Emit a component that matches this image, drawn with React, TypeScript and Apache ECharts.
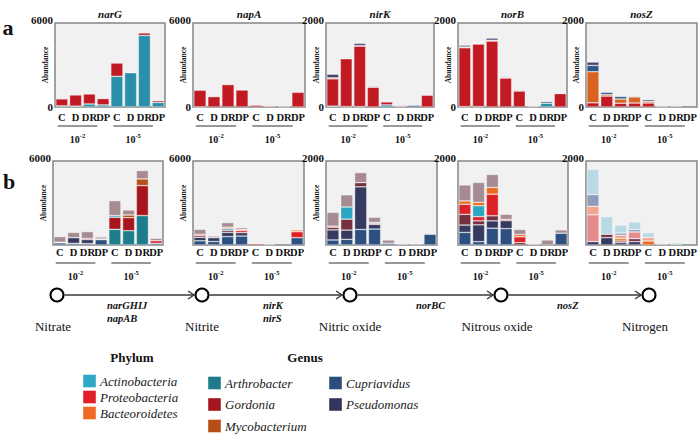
import React, { useEffect, useRef } from "react";
import * as echarts from "echarts";

const FONT = "Liberation Serif";

// ---------- data ----------
const CATEGORIES = ["C", "D", "DR", "DP", "C", "D", "DR", "DP"];
const DILUTIONS = ["-2", "-5"];
const GENES_A = ["narG", "napA", "nirK", "norB", "nosZ"];
const Y_MAX = [6000, 6000, 2000, 2000, 2000];

// Row a (phylum level)
const a_narG_actino = [80, 60, 215, 150, 2190, 2450, 5110, 330];
const a_narG_proteo = [500, 800, 715, 450, 950, 20, 180, 120];

const a_napA_actino = [10, 0, 0, 0, 0, 0, 0, 0];
const a_napA_proteo = [1190, 740, 1600, 1220, 120, 60, 20, 1050];
const a_napA_bacter = [0, 0, 0, 25, 0, 0, 0, 0];

const a_nirK_actino = [20, 10, 10, 0, 50, 20, 0, 0];
const a_nirK_proteo = [650, 1140, 1440, 470, 70, 20, 0, 280];
const a_nirK_bacter = [25, 0, 10, 0, 0, 0, 0, 0];
const a_nirK_blue = [0, 0, 0, 0, 0, 0, 40, 0];
const a_nirK_dark = [85, 15, 55, 20, 0, 0, 0, 0];
const a_nirK_light = [0, 25, 0, 0, 0, 0, 0, 0];

const a_norB_actino = [10, 10, 0, 0, 0, 0, 90, 0];
const a_norB_proteo = [1400, 1490, 1570, 690, 380, 15, 0, 320];
const a_norB_bacter = [20, 0, 20, 15, 0, 0, 0, 0];
const a_norB_blue = [0, 0, 0, 0, 0, 0, 40, 0];
const a_norB_dark = [40, 10, 50, 20, 20, 0, 0, 0];
const a_norB_light = [0, 20, 0, 0, 0, 0, 0, 10];

const a_nosZ_proteo = [100, 260, 90, 95, 95, 0, 0, 0];
const a_nosZ_bacter = [740, 35, 100, 145, 40, 0, 0, 0];
const a_nosZ_blue = [150, 55, 60, 0, 40, 10, 20, 0];
const a_nosZ_dark = [80, 0, 0, 0, 0, 0, 0, 0];
const a_nosZ_light = [0, 0, 0, 30, 0, 0, 0, 0];

// Row b (genus level)
const b_narG_arthro = [0, 0, 0, 0, 1120, 1020, 2100, 0];
const b_narG_cupri = [150, 120, 100, 380, 0, 0, 0, 120];
const b_narG_pseudo = [50, 400, 290, 50, 0, 0, 0, 0];
const b_narG_gordonia = [0, 0, 70, 0, 860, 930, 2140, 0];
const b_narG_red = [0, 0, 0, 0, 0, 0, 0, 190];
const b_narG_cyan = [0, 0, 0, 0, 120, 0, 0, 0];
const b_narG_myco = [0, 0, 0, 0, 0, 190, 480, 0];
const b_narG_mauve = [400, 380, 500, 140, 1070, 360, 600, 170];

const b_napA_cupri = [300, 250, 600, 640, 0, 0, 0, 520];
const b_napA_pseudo = [250, 270, 300, 240, 0, 0, 0, 0];
const b_napA_maroon = [120, 0, 150, 0, 0, 0, 0, 0];
const b_napA_red = [90, 0, 0, 150, 100, 0, 0, 430];
const b_napA_cyan = [0, 0, 120, 0, 0, 40, 0, 0];
const b_napA_orange = [0, 0, 100, 90, 0, 0, 0, 120];
const b_napA_mauve = [360, 120, 330, 120, 0, 0, 0, 0];

const b_nirK_cupri = [120, 135, 370, 380, 40, 0, 0, 255];
const b_nirK_pseudo = [240, 220, 1015, 110, 0, 0, 0, 0];
const b_nirK_maroon = [63, 260, 100, 0, 0, 0, 0, 0];
const b_nirK_red = [25, 0, 0, 25, 0, 0, 0, 0];
const b_nirK_cyan = [0, 290, 0, 25, 0, 0, 0, 0];
const b_nirK_mauve = [330, 290, 240, 120, 80, 25, 25, 0];

const b_norB_cupri = [300, 80, 400, 390, 0, 0, 0, 280];
const b_norB_pseudo = [175, 400, 175, 190, 0, 0, 0, 0];
const b_norB_maroon = [255, 95, 120, 0, 55, 0, 0, 0];
const b_norB_red = [240, 100, 515, 30, 140, 0, 0, 0];
const b_norB_cyan = [0, 260, 0, 0, 0, 0, 0, 0];
const b_norB_orange = [80, 80, 160, 0, 55, 20, 0, 0];
const b_norB_mauve = [380, 475, 310, 120, 120, 0, 120, 80];

const b_nosZ_pseudo = [80, 175, 55, 80, 0, 0, 0, 0];
const b_nosZ_maroon = [0, 80, 40, 70, 0, 0, 0, 0];
const b_nosZ_orange = [0, 0, 55, 0, 95, 0, 0, 0];
const b_nosZ_pink = [640, 0, 0, 160, 0, 0, 0, 0];
const b_nosZ_salmon = [200, 0, 80, 0, 80, 0, 0, 0];
const b_nosZ_slate = [280, 0, 55, 60, 0, 25, 0, 0];
const b_nosZ_lightblue = [600, 420, 190, 180, 120, 0, 50, 0];

// Pathway and legend texts
const COMPOUNDS = ["Nitrate", "Nitrite", "Nitric oxide", "Nitrous oxide", "Nitrogen"];
const PATH_GENES = [["narGHIJ", "napAB"], ["nirK", "nirS"], ["norBC"], ["nosZ"]];
const PHYLA = ["Actinobacteria", "Proteobacteria", "Bacteoroidetes"];
const GENERA_COL1 = ["Arthrobacter", "Gordonia", "Mycobacterium"];
const GENERA_COL2 = ["Cupriavidus", "Pseudomonas"];

// ---------- styles ----------
const ORDER_A = ["actino", "proteo", "bacter", "blue", "dark", "light"];
const COLORS_A: Record<string, string> = {
  actino: "#2990a9",
  proteo: "#c21a22",
  bacter: "#d9621e",
  blue: "#2f5588",
  dark: "#4a4268",
  light: "#a9cfdc",
};
const ORDER_B = ["arthro", "cupri", "pseudo", "gordonia", "maroon", "red", "cyan", "orange", "myco", "pink", "salmon", "slate", "lightblue", "mauve"];
const COLORS_B: Record<string, string> = {
  arthro: "#1f7c8c",
  cupri: "#2c5080",
  pseudo: "#363a60",
  gordonia: "#a8151d",
  maroon: "#74303e",
  red: "#dc2129",
  cyan: "#2ba6c2",
  orange: "#ea6b1f",
  myco: "#b65118",
  pink: "#e68a8c",
  salmon: "#f2a48e",
  slate: "#8f9dbb",
  lightblue: "#b9d9e4",
  mauve: "#a68c92",
};
const PHYLA_COLORS = ["#2ea8c6", "#e01f2b", "#ef6a23"];
const GENERA_COL1_COLORS = ["#1f7b8a", "#a3161e", "#b84d16"];
const GENERA_COL2_COLORS = ["#2b4d7c", "#33355a"];

const A_LEFT = [55, 193, 326, 458, 586];
const A_WIDTH = [110, 112, 108, 109, 111];
const B_LEFT = [53, 193, 326, 458, 586];
const B_WIDTH = [110, 111, 111, 110, 111];
const A_TOP = 23;
const B_TOP = 161;
const PANEL_H = 84;

function txt(x: number, y: number, text: string, size: number, opts: any = {}) {
  return {
    type: "text", silent: true, x, y, rotation: opts.rotation || 0,
    style: {
      text, x: 0, y: 0,
      align: opts.align || "center", verticalAlign: "middle",
      fill: opts.fill || "#111",
      fontFamily: FONT, fontSize: size,
      fontWeight: opts.bold ? "bold" : "normal",
      fontStyle: opts.italic ? "italic" : "normal",
    },
  };
}

function buildOption() {
  const rowA: Record<string, number[]>[] = [
    { actino: a_narG_actino, proteo: a_narG_proteo },
    { actino: a_napA_actino, proteo: a_napA_proteo, bacter: a_napA_bacter },
    { actino: a_nirK_actino, proteo: a_nirK_proteo, bacter: a_nirK_bacter, blue: a_nirK_blue, dark: a_nirK_dark, light: a_nirK_light },
    { actino: a_norB_actino, proteo: a_norB_proteo, bacter: a_norB_bacter, blue: a_norB_blue, dark: a_norB_dark, light: a_norB_light },
    { proteo: a_nosZ_proteo, bacter: a_nosZ_bacter, blue: a_nosZ_blue, dark: a_nosZ_dark, light: a_nosZ_light },
  ];
  const rowB: Record<string, number[]>[] = [
    { arthro: b_narG_arthro, cupri: b_narG_cupri, pseudo: b_narG_pseudo, gordonia: b_narG_gordonia, red: b_narG_red, cyan: b_narG_cyan, myco: b_narG_myco, mauve: b_narG_mauve },
    { cupri: b_napA_cupri, pseudo: b_napA_pseudo, maroon: b_napA_maroon, red: b_napA_red, cyan: b_napA_cyan, orange: b_napA_orange, mauve: b_napA_mauve },
    { cupri: b_nirK_cupri, pseudo: b_nirK_pseudo, maroon: b_nirK_maroon, red: b_nirK_red, cyan: b_nirK_cyan, mauve: b_nirK_mauve },
    { cupri: b_norB_cupri, pseudo: b_norB_pseudo, maroon: b_norB_maroon, red: b_norB_red, cyan: b_norB_cyan, orange: b_norB_orange, mauve: b_norB_mauve },
    { pseudo: b_nosZ_pseudo, maroon: b_nosZ_maroon, orange: b_nosZ_orange, pink: b_nosZ_pink, salmon: b_nosZ_salmon, slate: b_nosZ_slate, lightblue: b_nosZ_lightblue },
  ];

  const grid: any[] = [];
  const xAxis: any[] = [];
  const yAxis: any[] = [];
  const series: any[] = [];
  const graphic: any[] = [];
  const catKeys = CATEGORIES.map((c, i) => c + "|" + i);

  const addPanel = (
    idx: number, left: number, width: number, top: number, ymax: number,
    row: "a" | "b", showName: boolean,
    data: Record<string, number[]>, order: string[], colors: Record<string, string>
  ) => {
    grid.push({
      left, top, width, height: PANEL_H, show: true,
      backgroundColor: "#f1f1f1", borderColor: "#858585", borderWidth: 1.5,
    });
    xAxis.push({
      type: "category", gridIndex: idx, data: catKeys,
      axisLine: { show: false }, axisTick: { show: false }, splitLine: { show: false },
      axisLabel: {
        interval: 0, margin: row === "a" ? 5 : 2, hideOverlap: false,
        formatter: (v: string) => v.split("|")[0],
        fontFamily: FONT, fontWeight: "bold", fontSize: 10.5, color: "#111",
      },
    });
    yAxis.push({
      type: "value", gridIndex: idx, min: 0, max: ymax, interval: ymax,
      axisLine: { show: false }, axisTick: { show: false }, splitLine: { show: false },
      axisLabel: {
        margin: 2,
        fontFamily: FONT, fontWeight: "bold", fontSize: 11, color: "#111",
        formatter: (v: number) => (v === 0 ? (row === "a" ? "{z|0}" : "") : "{t|" + v + "}"),
        rich: {
          t: { fontFamily: FONT, fontWeight: "bold", fontSize: 11, color: "#111", padding: [0, 0, 6, 0] },
          z: { fontFamily: FONT, fontWeight: "bold", fontSize: 11, color: "#111" },
        },
      },
    });
    if (showName) {
      graphic.push(txt(left - 9.5, top + PANEL_H / 2, "Abundance", 7.5, { bold: true, rotation: Math.PI / 2 }));
    }
    order.forEach((key) => {
      const arr = data[key];
      if (!arr) return;
      series.push({
        type: "bar", name: key, stack: "s" + idx,
        xAxisIndex: idx, yAxisIndex: idx,
        data: arr.map((v) => (v > 0 ? v : null)),
        barCategoryGap: "12%", silent: true,
        itemStyle: { color: colors[key], borderColor: "rgba(255,255,255,0.6)", borderWidth: 0.6 },
      });
    });
    // dilution group underlines + labels
    const yLine = row === "a" ? top + PANEL_H + 19 : top + PANEL_H + 18;
    const starts = [left + width * 0.025, left + width * 0.53];
    starts.forEach((sx, gi) => {
      const len = width * 0.36;
      graphic.push({
        type: "line", silent: true,
        shape: { x1: sx, y1: yLine, x2: sx + len, y2: yLine },
        style: { stroke: "#333", lineWidth: 1 },
      });
      graphic.push({
        type: "text", silent: true, x: sx + len / 2, y: yLine + 12,
        style: {
          text: "{b|10}{s|" + DILUTIONS[gi] + "}",
          align: "center", verticalAlign: "middle", fill: "#111",
          fontFamily: FONT,
          rich: {
            b: { fontFamily: FONT, fontWeight: "bold", fontSize: 10, lineHeight: 13, verticalAlign: "bottom", fill: "#111" },
            s: { fontFamily: FONT, fontWeight: "bold", fontSize: 6.5, lineHeight: 7, verticalAlign: "top", fill: "#111" },
          },
        },
      });
    });
  };

  for (let i = 0; i < 5; i++) {
    addPanel(i, A_LEFT[i], A_WIDTH[i], A_TOP, Y_MAX[i], "a", true, rowA[i], ORDER_A, COLORS_A);
    graphic.push(txt(A_LEFT[i] + A_WIDTH[i] / 2, 14, GENES_A[i], 11, { bold: true, italic: true }));
  }
  for (let i = 0; i < 5; i++) {
    addPanel(5 + i, B_LEFT[i], B_WIDTH[i], B_TOP, Y_MAX[i], "b", i < 3, rowB[i], ORDER_B, COLORS_B);
  }

  // panel letters
  graphic.push(txt(8, 27, "a", 22, { bold: true }));
  graphic.push(txt(9, 181, "b", 22, { bold: true }));

  // pathway
  const cx = [57, 202, 350, 501, 649];
  const cy = 295;
  const r = 6.5;
  for (let i = 0; i < cx.length - 1; i++) {
    const x1 = cx[i] + r + 1;
    const x2 = cx[i + 1] - r - 1.5;
    graphic.push({ type: "line", silent: true, shape: { x1, y1: cy, x2, y2: cy }, style: { stroke: "#3a3a3a", lineWidth: 1.4 } });
    graphic.push({ type: "polyline", silent: true, shape: { points: [[x2 - 6, cy - 4], [x2, cy], [x2 - 6, cy + 4]] }, style: { stroke: "#3a3a3a", lineWidth: 1.4, fill: "none" } });
  }
  cx.forEach((x) => {
    graphic.push({ type: "circle", silent: true, shape: { cx: x, cy, r }, style: { fill: "#fff", stroke: "#000", lineWidth: 2 } });
  });
  const compoundX = [53, 202, 350, 497, 645];
  COMPOUNDS.forEach((name, i) => graphic.push(txt(compoundX[i], 326, name, 13)));
  const geneX = [107, 263, 416, 557];
  PATH_GENES.forEach((genes, i) => {
    genes.forEach((g, j) => graphic.push(txt(geneX[i], 305 + j * 13, g, 10.5, { bold: true, italic: true, align: "left" })));
  });

  // legend
  graphic.push(txt(132, 357, "Phylum", 13, { bold: true }));
  graphic.push(txt(305, 357, "Genus", 13, { bold: true }));
  const addLegendItem = (sx: number, yc: number, color: string, label: string) => {
    graphic.push({ type: "rect", silent: true, shape: { x: sx, y: yc - 6.5, width: 13, height: 13 }, style: { fill: color, stroke: "rgba(255,255,255,0.7)", lineWidth: 0.6 } });
    graphic.push(txt(sx + 17, yc, label, 13, { italic: true, align: "left", fill: "#222" }));
  };
  PHYLA.forEach((p, i) => addLegendItem(83, 381 + i * 16, PHYLA_COLORS[i], p));
  GENERA_COL1.forEach((g, i) => addLegendItem(208, 383 + i * 21.5, GENERA_COL1_COLORS[i], g));
  GENERA_COL2.forEach((g, i) => addLegendItem(329, 383 + i * 21.5, GENERA_COL2_COLORS[i], g));

  return {
    animation: false,
    backgroundColor: "#ffffff",
    textStyle: { fontFamily: FONT },
    grid, xAxis, yAxis, series, graphic,
  };
}

export default function App() {
  const ref = useRef<HTMLDivElement>(null);
  useEffect(() => {
    if (!ref.current) return;
    const chart = echarts.init(ref.current, undefined, { renderer: "svg" });
    chart.setOption(buildOption() as any);
    return () => chart.dispose();
  }, []);
  return (
    <div
      ref={ref}
      style={{ position: "absolute", left: 0, top: 0, width: 700, height: 435, background: "#fff" }}
    />
  );
}
